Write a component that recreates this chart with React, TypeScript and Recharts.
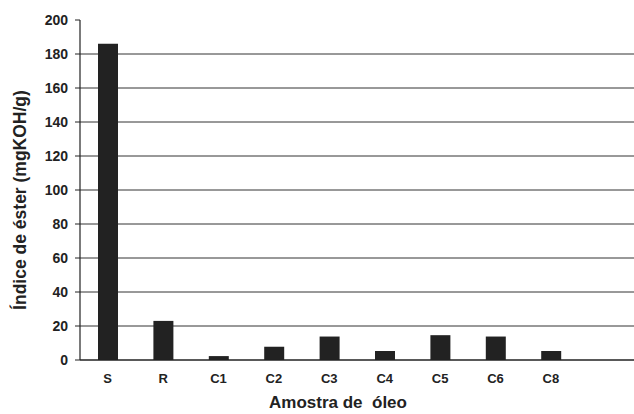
import { BarChart, Bar, XAxis, YAxis, CartesianGrid, Label } from "recharts";

const samples = ["S", "R", "C1", "C2", "C3", "C4", "C5", "C6", "C8", ""];
const esterIndex = [186, 23, 2.3, 7.8, 13.8, 5.3, 14.6, 13.8, 5.3, null];
const yTicks = [0, 20, 40, 60, 80, 100, 120, 140, 160, 180, 200];
const gridValues = [20, 40, 60, 80, 100, 120, 140, 160, 180];

const data = samples.map((name, i) => ({ name, value: esterIndex[i] }));

const font = "'Liberation Sans', Arial, sans-serif";
const ink = "#222";

const App = () => {
  return (
    <div style={{ position: "absolute", left: 0, top: 0, background: "#fff" }}>
      <BarChart width={634} height={414} data={data} margin={{ top: 20, right: 0, bottom: 0, left: 0 }}>
        <CartesianGrid vertical={false} horizontalValues={gridValues} stroke="#333" strokeWidth={1} />
        <XAxis
          dataKey="name"
          height={54}
          tickLine={false}
          tickSize={0}
          tickMargin={14}
          axisLine={{ stroke: ink, strokeWidth: 1.5 }}
          tick={{ fill: ink, fontSize: 13, fontWeight: "bold", fontFamily: font }}
          interval={0}
        >
          <Label
            value={"Amostra de\u00a0 óleo"}
            position="insideBottom"
            offset={6}
            dx={-19}
            style={{ fill: ink, fontSize: 17, fontWeight: "bold", fontFamily: font }}
          />
        </XAxis>
        <YAxis
          width={80}
          domain={[0, 200]}
          ticks={yTicks}
          interval={0}
          tickSize={5}
          tickMargin={7}
          axisLine={{ stroke: ink, strokeWidth: 1.2 }}
          tickLine={{ stroke: ink }}
          tick={{ fill: ink, fontSize: 14, fontWeight: "bold", fontFamily: font }}
        >
          <Label
            value="Índice de éster (mgKOH/g)"
            angle={-90}
            position="insideLeft"
            offset={20}
            dy={10}
            style={{ fill: ink, fontSize: 17.5, fontWeight: "bold", fontFamily: font, textAnchor: "middle" }}
          />
        </YAxis>
        <Bar dataKey="value" fill={ink} barSize={20} isAnimationActive={false} />
      </BarChart>
    </div>
  );
};

export default App;
